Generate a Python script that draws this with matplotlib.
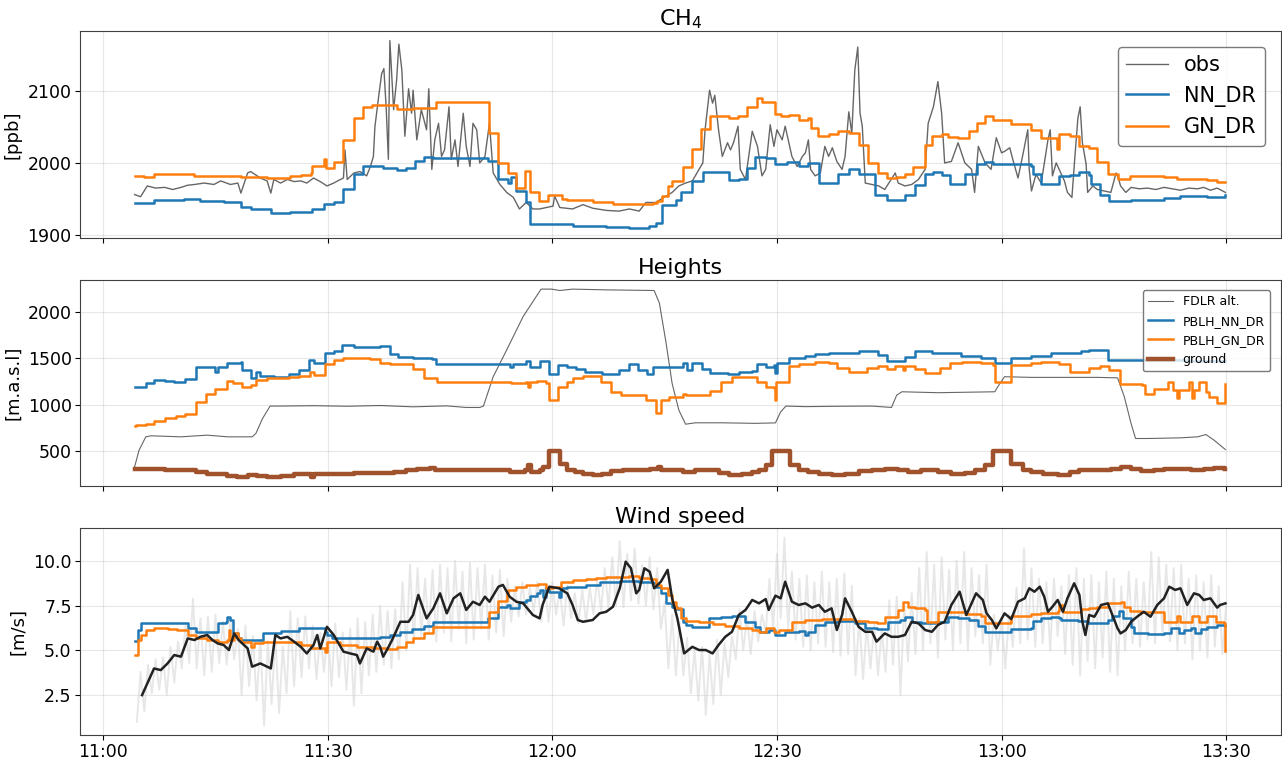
import numpy as np
import pandas as pd
import matplotlib
matplotlib.use('Agg')
import matplotlib.pyplot as plt
import matplotlib.dates as mdates

plt.rcParams['font.family'] = 'DejaVu Sans'

# ── DATA (time in minutes after 11:00) ──────────────────────────────────────
# CH4 observations [ppb]
ch4_obs_t = [4.2, 5.0, 5.9, 7.0, 8.2, 9.3, 10.4, 11.3, 12.2, 13.5, 14.8, 15.7, 17.0, 18.0, 18.4, 19.3, 19.7,
             21.0, 21.9, 22.4, 22.8, 23.7, 24.6, 25.5, 26.4, 27.2, 28.1, 29.0, 29.9, 30.8, 31.5, 32.1, 32.3,
             32.6, 33.5, 34.3, 35.2, 35.7, 36.1, 36.3, 36.8, 37.2, 37.5, 37.8, 38.1, 38.3, 38.8, 39.2, 39.5,
             39.9, 40.3, 40.8, 41.2, 41.4, 41.9, 42.5, 43.2, 43.5, 43.9, 44.3, 44.8, 45.2, 45.6, 46.2, 46.5,
             47.0, 47.4, 48.1, 48.5, 49.0, 49.4, 49.9, 50.3, 51.0, 51.6, 52.1, 53.0, 53.9, 54.8, 55.6, 56.5,
             57.4, 58.3, 59.2, 60.1, 60.3, 61.0, 62.7, 64.1, 65.4, 67.2, 68.9, 70.3, 71.6, 72.5, 73.8, 75.2,
             76.0, 76.9, 77.8, 78.7, 79.6, 80.1, 80.4, 81.0, 81.4, 81.7, 82.2, 82.7, 83.4, 83.8, 84.2, 84.8,
             85.1, 85.8, 86.7, 87.4, 88.0, 88.5, 89.1, 89.6, 90.0, 90.7, 91.1, 91.6, 92.0, 92.7, 93.4, 93.8,
             94.2, 94.5, 95.1, 95.8, 96.4, 96.9, 97.4, 98.0, 98.7, 99.1, 99.6, 100.0, 100.4, 100.8, 101.1,
             101.4, 101.8, 102.7, 103.6, 104.4, 105.8, 106.2, 107.1, 108.0, 108.9, 109.8, 110.2, 110.9,
             111.5, 112.0, 112.4, 113.3, 114.2, 115.1, 116.0, 116.4, 116.9, 117.8, 118.6, 119.3, 120.0,
             120.4, 121.1, 121.5, 122.2, 122.9, 123.5, 123.7, 124.0, 124.6, 125.3, 126.2, 126.5, 126.8,
             127.3, 127.7, 128.4, 128.8, 129.4, 129.8, 130.2, 130.5, 130.8, 131.3, 131.5, 132.2, 132.8,
             133.7, 134.6, 135.3, 135.6, 135.9, 136.6, 137.3, 138.4, 139.5, 140.6, 141.7, 142.8, 143.9,
             145.0, 146.2, 147.0, 147.9, 148.8, 149.9]
ch4_obs = [1956, 1953, 1968, 1965, 1966, 1963, 1966, 1969, 1970, 1972, 1970, 1975, 1970, 1972, 1958, 1986, 1988,
           1979, 1975, 1958, 1977, 1972, 1977, 1974, 1975, 1972, 1979, 1974, 1968, 1972, 1976, 1979, 2018,
           1977, 1986, 1988, 1982, 1995, 2009, 2050, 2092, 2124, 2131, 2078, 2005, 2170, 2074, 2115, 2165,
           2129, 2037, 2103, 2069, 2101, 2032, 2074, 2046, 2103, 1991, 2032, 2055, 2009, 2018, 2078, 2005,
           2032, 1995, 2069, 2023, 1995, 2055, 2046, 2000, 2009, 2055, 1986, 1970, 1959, 1952, 1936, 1945,
           1936, 1936, 1938, 1940, 1954, 1938, 1936, 1942, 1937, 1934, 1933, 1936, 1933, 1945, 1945, 1954,
           1959, 1968, 1972, 1975, 1991, 2000, 2046, 2101, 2083, 2094, 2046, 2009, 2028, 2018, 2028, 2051,
           1991, 1977, 2044, 2023, 1982, 1991, 2053, 2023, 2046, 2032, 2051, 2028, 2009, 1995, 2009, 2014,
           2032, 1991, 1982, 1986, 2023, 2009, 2021, 2002, 1991, 2009, 2071, 2041, 2129, 2161, 2069,
           2051, 1972, 1970, 1968, 1963, 1986, 1972, 1968, 1970, 1977, 1991, 2055, 2078,
           2113, 2069, 2000, 2002, 2028, 2000, 1991, 1959, 2023, 2000, 1991, 2035, 2014,
           2016, 2021, 2005, 1979, 2014, 2046, 1991, 1961, 1984, 1972, 2032, 2046, 1982,
           2000, 1991, 1975, 1959, 1952, 2009, 2062, 2078, 2028, 1998, 1959, 1968, 1963,
           1961, 1959, 1986, 1979, 1968, 1959, 1966, 1964, 1965, 1963, 1966, 1964, 1962,
           1965, 1964, 1966, 1962, 1965, 1959]

# CH4 model (step) series [ppb]
ch4_nn_t = [4.2, 6.8, 10.8, 13.0, 16.1, 18.4, 19.7, 22.4, 25.0, 27.9, 29.5, 30.8, 32.1, 33.5, 34.7, 36.1, 37.4,
            39.2, 40.5, 41.7, 42.8, 44.1, 51.4, 52.8, 54.1, 54.5, 55.2, 56.5, 57.0, 62.7, 67.2, 70.3, 72.9,
            73.8, 74.6, 76.5, 77.2, 78.7, 80.1, 81.4, 83.6, 84.9, 86.0, 87.1, 88.5, 89.8, 91.4, 92.9, 94.2,
            95.6, 98.2, 99.6, 100.9, 103.1, 104.7, 107.1, 108.4, 109.8, 110.9, 112.0, 113.1, 115.1, 116.7,
            117.8, 118.9, 124.0, 124.2, 125.3, 127.7, 129.1, 130.4, 131.7, 131.9, 133.1, 134.4, 137.3,
            141.7, 143.9, 147.5, 149.9]
ch4_nn = [1944, 1948.5, 1949.4, 1947, 1945, 1939, 1935.6, 1931, 1932, 1935.6, 1942.5, 1945.7, 1964, 1984, 1996,
          1995, 1993, 1990, 1993, 2002, 2008, 2007, 2002, 1977, 1972, 1981, 1961, 1945, 1915, 1913, 1911,
          1909, 1912, 1917, 1941, 1949, 1959, 1975, 1987, 1988, 1976, 1978, 1993, 2008, 2007, 1999, 2001,
          1996, 2000, 1972, 1985, 1992, 1985, 1956, 1948, 1955, 1969, 1985, 1988, 1983, 1971, 1985, 1998,
          2001, 1998, 1995, 1984, 1971, 1982, 1983, 1988, 1983, 1970, 1956, 1947, 1949, 1951, 1954, 1953,
          1955]
ch4_gn_t = [4.2, 5.5, 6.8, 10.8, 12.2, 18.4, 21.9, 24.9, 26.4, 27.7, 27.9, 29.5, 29.8, 30.8, 32.1, 33.5, 34.7,
            35.9, 39.2, 41.4, 44.5, 51.6, 52.8, 54.1, 55.2, 56.4, 57.0, 58.2, 59.4, 61.3, 61.9, 65.4, 68.1,
            73.4, 74.0, 74.7, 75.4, 76.0, 77.4, 78.7, 79.9, 81.1, 83.6, 84.8, 86.0, 87.4, 88.0, 89.8, 90.5,
            91.6, 92.9, 94.2, 94.5, 95.5, 96.9, 98.2, 99.6, 100.9, 102.2, 103.5, 104.7, 106.0, 107.1, 108.2,
            109.8, 110.7, 112.0, 112.9, 114.2, 115.6, 116.7, 117.8, 118.9, 121.3, 124.0, 125.3, 127.4,
            127.7, 129.1, 130.4, 131.7, 132.8, 134.2, 135.5, 137.1, 141.7, 143.5, 145.3, 147.5, 148.8, 149.9]
ch4_gn = [1982, 1981, 1985, 1984, 1982, 1980, 1978.5, 1981.5, 1983.5, 1986, 1996, 2005, 1993, 2001, 2032, 2062,
          2077, 2080, 2075, 2076, 2084, 2041, 2000, 1986, 1965, 1989, 1960, 1947, 1955, 1950, 1949, 1945,
          1943.5, 1944.5, 1947, 1954, 1968, 1975, 1994, 2019, 2047, 2065, 2062, 2065, 2078, 2090, 2085,
          2068, 2065, 2066, 2060, 2063, 2048, 2038, 2040, 2045, 2042, 2025, 2000, 1986, 1979, 1981, 1985,
          1994, 2025, 2038, 2040, 2036, 2034, 2044, 2056, 2065, 2060, 2054, 2046, 2034, 2019, 2040, 2038,
          2023, 2021, 2001, 1985, 1977, 1982, 1980, 1978, 1977, 1976, 1974, 1974]

# Heights [m a.s.l.]
alt_t = [4.2, 4.8, 5.7, 6.4, 10.4, 13.9, 16.6, 19.9, 20.4, 21.3, 22.3, 23.7, 28.1, 32.6, 37.0, 41.4, 45.9, 48.5,
         50.3, 50.8, 52.1, 53.9, 56.1, 58.5, 59.9, 61.0, 62.7, 67.2, 73.6, 74.3, 75.2, 76.0, 76.9, 77.8, 79.1,
         82.7, 87.1, 89.8, 90.5, 91.2, 93.8, 98.2, 102.7, 105.3, 106.0, 106.7, 111.5, 119.1, 119.7, 120.4,
         124.0, 128.4, 132.8, 135.5, 136.4, 137.3, 137.9, 139.5, 143.9, 146.2, 147.3, 148.4, 149.9]
alt = [331, 511, 655, 666, 655, 673, 655, 655, 691, 853, 986, 986, 990, 984, 992, 978, 988, 971,
       971, 986, 1302, 1590, 1950, 2245, 2245, 2230, 2245, 2237, 2230, 2094, 1662, 1230, 942, 791, 806,
       806, 800, 805, 924, 986, 980, 984, 986, 971, 1104, 1140, 1130, 1140, 1220, 1302,
       1295, 1295, 1295, 1290, 1086, 799, 637, 637, 644, 655, 680, 618, 518]
pblh_nn_t = [4.2, 5.7, 6.8, 8.2, 9.5, 11.0, 12.4, 13.7, 15.0, 15.3, 16.6, 18.4, 18.6, 19.7, 20.4, 21.0, 22.8,
             24.8, 26.1, 27.5, 28.1, 29.7, 30.8, 31.9, 33.5, 37.0, 38.3, 39.4, 41.4, 43.9, 44.5, 53.9, 54.3,
             54.7, 56.5, 57.0, 58.3, 59.6, 60.7, 61.9, 63.2, 64.3, 66.7, 68.9, 70.3, 71.4, 72.7, 73.4, 74.5,
             77.4, 78.0, 78.7, 80.0, 81.1, 83.4, 84.9, 86.7, 87.4, 88.5, 89.6, 89.8, 90.0, 91.6, 93.8, 95.1,
             96.9, 99.1, 100.9, 103.5, 104.7, 107.1, 108.4, 110.7, 113.3, 114.6, 117.3, 119.1, 121.3, 124.0,
             126.6, 128.4, 130.6, 131.7, 133.1, 134.2, 141.0, 145.0, 149.9]
pblh_nn = [1194, 1237, 1266, 1255, 1248, 1273, 1410, 1403, 1356, 1410, 1446, 1457, 1374, 1284, 1356, 1309, 1302,
           1327, 1374, 1482, 1446, 1554, 1583, 1644, 1626, 1633, 1543, 1518, 1500, 1489, 1435, 1435, 1410,
           1439, 1475, 1410, 1475, 1331, 1428, 1410, 1381, 1356, 1331, 1374, 1439, 1374, 1331, 1403, 1410,
           1446, 1374, 1453, 1381, 1338, 1331, 1356, 1367, 1439, 1410, 1428, 1338, 1446, 1500, 1525, 1543,
           1561, 1561, 1583, 1536, 1475, 1518, 1583, 1554, 1561, 1525, 1507, 1446, 1507, 1525,
           1561, 1554, 1579, 1590, 1590, 1482, 1478, 1472, 1480]
pblh_gn_t = [4.2, 4.4, 5.7, 6.8, 8.3, 9.7, 11.0, 12.4, 13.8, 15.0, 16.5, 17.3, 18.6, 19.7, 20.4, 21.9, 24.8,
             26.1, 27.6, 28.1, 29.7, 30.8, 32.1, 33.5, 35.7, 37.0, 38.3, 40.3, 41.4, 42.8, 44.6, 54.5, 56.5,
             56.7, 57.0, 57.9, 59.2, 59.6, 60.7, 61.9, 62.7, 64.1, 66.5, 67.8, 69.2, 72.5, 73.6, 73.8, 74.5,
             75.6, 77.4, 77.8, 81.1, 82.5, 84.0, 86.0, 87.4, 88.5, 89.6, 89.7, 89.9, 91.6, 92.9, 95.1, 96.9,
             98.0, 99.6, 102.0, 103.5, 104.7, 105.8, 106.9, 107.1, 108.4, 109.8, 111.8, 113.1, 114.7, 117.3,
             118.9, 119.1, 121.3, 124.0, 125.3, 127.7, 129.1, 131.7, 133.1, 134.4, 135.8, 138.7, 139.2,
             140.4, 142.2, 142.9, 143.5, 143.7, 145.0, 145.5, 145.7, 146.4, 147.3, 147.7, 148.8, 149.9]
pblh_gn = [770, 781, 791, 827, 860, 878, 896, 1025, 1112, 1166, 1255, 1230, 1194, 1212, 1266, 1284, 1295,
           1309, 1356, 1320, 1439, 1482, 1500, 1500, 1489, 1453, 1439, 1435, 1381, 1284, 1248, 1237, 1248,
           1187, 1248, 1255, 1230, 1050, 1194, 1248, 1284, 1309, 1248, 1140, 1104, 1050, 1050, 907, 1050,
           1079, 1115, 1104, 1151, 1248, 1302, 1302, 1248, 1187, 1176, 1050, 1248, 1417, 1439, 1464, 1453,
           1392, 1356, 1392, 1417, 1381, 1417, 1374, 1417, 1381, 1345, 1392, 1446, 1464, 1446,
           1428, 1248, 1428, 1453, 1464, 1439, 1356, 1392, 1417, 1374, 1223, 1212, 1115,
           1166, 1248, 1158, 1068, 1158, 1248, 1068, 1158, 1248, 1140, 1086, 1022, 1223]
ground_t = [4.2, 5.9, 8.2, 10.4, 12.4, 13.9, 15.3, 16.6, 17.9, 19.3, 20.6, 21.9, 23.7, 25.5, 27.2, 27.7, 28.1,
            29.9, 31.7, 33.5, 36.1, 38.8, 40.5, 41.9, 43.7, 44.3, 45.9, 53.9, 54.3, 56.3, 56.7, 57.2, 58.3,
            58.7, 59.6, 60.7, 61.0, 61.9, 63.0, 64.1, 65.4, 66.7, 67.8, 69.4, 71.2, 73.0, 74.1, 74.5, 77.4,
            79.1, 80.9, 82.2, 83.6, 85.4, 86.7, 87.6, 88.5, 89.4, 91.6, 91.8, 92.9, 94.2, 95.6, 97.4, 99.1,
            100.9, 102.7, 104.4, 106.2, 107.5, 109.3, 111.5, 113.3, 115.1, 116.4, 117.8, 118.9, 121.1,
            121.3, 122.8, 124.0, 125.5, 127.5, 129.1, 130.4, 132.8, 134.6, 135.9, 137.3, 138.6, 140.4,
            141.7, 143.5, 145.3, 147.1, 148.4, 149.9]
ground = [306, 313, 295, 295, 277, 259, 252, 230, 223, 241, 230, 223, 230, 252, 259, 223, 259,
          252, 259, 263, 270, 277, 302, 313, 324, 295, 295, 295, 277, 295, 349, 277, 295,
          331, 500, 500, 367, 295, 277, 252, 241, 252, 288, 295, 302, 313, 331, 302, 277,
          295, 295, 263, 241, 252, 277, 302, 349, 500, 500, 349, 302, 277, 252, 241, 259,
          288, 295, 306, 295, 277, 295, 277, 252, 263, 295, 349, 500, 500,
          367, 295, 277, 252, 241, 277, 295, 302, 313, 331, 313, 288, 295,
          306, 313, 302, 313, 320, 313]

# Wind speed [m/s]: raw 0.5-min samples starting at minute 4.5
wind_raw = [1.0, 3.8, 1.6, 4.2, 2.6, 4.5, 2.8, 4.6, 2.5, 5.2,
            3.2, 5.5, 4.0, 6.4, 4.3, 7.9, 4.0, 6.8, 3.6, 6.9,
            3.8, 7.0, 4.3, 6.6, 4.2, 6.8, 4.5, 6.2, 2.5, 6.4,
            3.0, 5.8, 2.2, 5.6, 0.8, 5.5, 2.0, 5.8, 1.5, 5.2,
            2.6, 7.2, 3.0, 6.8, 3.5, 6.9, 4.0, 6.4, 3.4, 6.0,
            3.8, 6.3, 3.0, 6.5, 3.5, 6.0, 2.8, 6.2, 1.9, 6.8,
            2.6, 6.6, 3.6, 7.0, 3.8, 7.5, 4.2, 7.2, 4.0, 7.3,
            4.5, 8.8, 5.0, 9.8, 5.4, 9.6, 5.8, 9.0, 6.0, 9.5,
            5.5, 9.8, 6.0, 9.6, 5.5, 10.0, 6.2, 9.4, 5.4, 9.9,
            5.6, 9.6, 6.2, 9.8, 5.6, 9.2, 6.0, 9.5, 5.8, 9.0,
            6.6, 8.6, 6.9, 8.8, 7.0, 8.5, 7.2, 8.8, 6.6, 8.6,
            6.6, 8.8, 7.0, 8.4, 6.4, 8.6, 6.8, 8.2, 6.5, 8.4,
            6.6, 8.5, 7.0, 9.0, 7.2, 9.6, 7.4, 10.2, 7.5, 11.1,
            7.4, 10.4, 7.8, 10.7, 7.6, 9.8, 7.5, 10.2, 7.3, 9.6,
            6.2, 7.7, 4.0, 7.0, 3.6, 6.6, 3.6, 5.7, 2.6, 5.0,
            2.2, 5.2, 1.4, 4.8, 2.0, 5.6, 2.5, 5.4, 3.5, 5.8,
            4.5, 7.3, 5.0, 6.9, 4.8, 7.2, 5.5, 7.0, 6.0, 9.0,
            6.2, 10.4, 6.8, 11.3, 6.2, 9.4, 5.6, 9.0, 5.2, 9.2,
            5.0, 8.8, 5.4, 9.4, 5.2, 8.8, 4.9, 9.0, 4.7, 9.3,
            4.8, 8.6, 3.6, 6.8, 3.4, 6.4, 4.0, 6.5, 3.6, 6.2,
            3.8, 7.8, 4.2, 8.0, 2.5, 7.6, 4.4, 8.2, 4.8, 9.6,
            5.0, 10.5, 5.4, 9.8, 4.6, 10.2, 5.6, 9.5, 5.0, 10.0,
            5.4, 10.5, 5.0, 9.6, 5.8, 9.2, 5.4, 9.8, 4.2, 7.0,
            5.0, 6.8, 4.0, 7.0, 5.2, 8.5, 5.4, 10.7, 5.6, 9.6,
            5.2, 9.0, 5.4, 8.8, 5.0, 9.0, 5.8, 8.6, 4.8, 9.2,
            4.2, 9.6, 3.6, 9.0, 4.4, 9.2, 4.0, 8.8, 4.6, 9.4,
            3.8, 9.0, 3.6, 8.6, 5.0, 9.4, 5.4, 9.0, 5.2, 8.8,
            5.6, 10.5, 5.4, 10.2, 5.8, 9.8, 5.5, 9.6, 5.0, 9.8,
            5.4, 9.0, 4.5, 9.2, 5.0, 8.8, 4.6, 9.2, 5.2, 8.6,
            4.8, 7.6]
wind_smooth_t = [5.2, 5.7, 6.4, 6.8, 7.7, 8.6, 9.5, 10.4, 11.3, 12.2, 13.0, 13.9, 14.6, 15.3, 16.1, 16.8, 17.5,
                 18.1, 19.3, 19.9, 21.0, 22.4, 23.0, 23.7, 24.6, 25.5, 26.4, 27.2, 28.1, 28.6, 29.0, 29.9, 30.8,
                 32.1, 33.0, 33.9, 34.3, 35.2, 36.1, 36.6, 37.0, 37.4, 37.9, 38.6, 39.7, 40.8, 41.4, 42.1, 43.2,
                 44.1, 45.0, 45.9, 46.8, 47.7, 48.5, 49.4, 50.3, 51.0, 51.6, 52.8, 53.4, 54.3, 55.2, 56.1, 57.4,
                 58.3, 58.7, 59.6, 60.9, 62.0, 62.7, 63.4, 64.1, 65.4, 66.3, 67.2, 68.1, 69.0, 69.8, 70.5, 71.2,
                 71.6, 72.3, 73.0, 73.6, 74.5, 75.4, 76.0, 76.7, 77.6, 78.7, 79.6, 80.5, 81.4, 82.2, 83.1, 84.0,
                 84.9, 85.8, 86.7, 87.6, 88.5, 88.9, 89.8, 90.5, 91.1, 92.0, 92.9, 93.8, 94.7, 95.6, 96.4, 97.3,
                 98.0, 98.7, 99.1, 100.0, 100.9, 101.8, 102.7, 103.3, 104.4, 105.3, 106.2, 107.1, 108.0, 108.9,
                 109.8, 110.7, 111.5, 112.4, 113.3, 114.4, 115.3, 116.0, 116.6, 117.5, 118.0, 118.7, 119.3,
                 120.4, 121.3, 122.2, 123.1, 123.7, 124.4, 125.1, 125.7, 126.2, 126.8, 127.5, 128.2, 128.8,
                 129.7, 130.4, 130.8, 131.2, 131.7, 132.4, 133.3, 134.2, 134.8, 135.5, 135.9, 136.6, 137.3,
                 138.1, 139.0, 139.9, 140.8, 141.7, 142.4, 143.2, 143.9, 144.8, 145.7, 146.4, 147.0, 147.9,
                 148.8, 149.2, 149.9]
wind_smooth = [2.5, 2.97, 3.62, 3.99, 3.9, 4.27, 4.74, 4.65, 5.67, 5.58, 5.76, 5.86, 5.58, 5.39, 5.3, 5.02, 5.95,
               5.58, 5.11, 4.09, 4.27, 3.99, 5.86, 5.67, 5.76, 5.49, 5.2, 4.83, 5.3, 5.86, 5.11, 6.32, 5.86,
               4.93, 4.83, 4.74, 4.27, 5.11, 4.93, 5.49, 5.2, 4.65, 5.02, 5.58, 6.6, 6.6, 6.98, 8.1, 6.79,
               7.35, 8.19, 7.07, 7.91, 8.19, 7.26, 7.72, 7.54, 8.0, 7.72, 8.56, 8.66, 8.0, 7.72, 7.63, 6.98,
               6.79, 7.54, 8.56, 8.47, 8.19, 7.54, 6.7, 6.6, 6.7, 7.07, 7.16, 7.44, 8.47, 9.96, 9.59, 8.19,
               8.38, 9.59, 9.4, 8.47, 8.84, 9.5, 7.91, 6.79, 4.83, 5.2, 5.02, 5.02, 4.83, 5.3, 5.76, 6.04,
               6.98, 7.26, 7.82, 7.63, 7.87, 7.26, 8.06, 7.91, 8.84, 7.72, 7.54, 7.63, 7.39, 7.54, 7.16, 7.35,
               6.14, 6.98, 7.91, 7.16, 6.32, 6.04, 6.04, 5.49, 5.95, 5.76, 5.76, 5.86, 6.6, 6.51,
               6.14, 6.04, 6.42, 6.6, 7.54, 8.28, 6.98, 7.63, 8.19, 7.82, 7.07, 6.7, 6.23,
               7.07, 6.75, 7.72, 7.91, 8.47, 8.28, 8.56, 8.0, 7.16, 7.44, 7.82, 7.16, 7.91,
               8.75, 8.1, 6.6, 5.86, 6.98, 6.88, 7.54, 7.63, 6.98, 6.23, 5.95, 6.14, 6.6,
               6.88, 7.16, 6.88, 7.54, 7.91, 8.56, 8.38, 8.47, 7.54, 8.19, 8.1, 7.82, 7.91,
               7.39, 7.54, 7.63]
wind_nn_t = [4.3, 4.6, 5.1, 10.8, 11.3, 12.4, 15.0, 15.3, 16.4, 16.6, 17.0, 17.3, 18.0, 18.4, 20.1, 21.3,
             23.7, 26.1, 29.7, 29.9, 30.6, 32.1, 37.0, 38.3, 39.7, 41.2, 42.8, 44.1, 51.2, 51.4, 52.8, 53.9,
             54.3, 55.6, 56.5, 57.0, 57.9, 58.3, 58.7, 59.2, 59.6, 60.9, 61.2, 61.9, 62.7, 64.5, 66.3, 69.0,
             71.6, 73.4, 73.8, 74.5, 75.2, 76.0, 76.7, 77.4, 77.8, 78.7, 80.0, 80.9, 82.5, 84.0, 85.8, 87.1,
             87.8, 88.9, 89.8, 91.1, 92.9, 93.8, 94.2, 95.1, 96.4, 98.2, 100.4, 101.8, 103.3, 104.9, 106.4,
             107.1, 108.0, 109.3, 111.1, 112.9, 114.2, 115.6, 116.9, 117.8, 121.3, 124.0, 124.2, 125.3,
             126.6, 127.7, 128.0, 130.2, 131.5, 133.3, 134.2, 134.8, 135.7, 136.2, 137.3, 137.7, 139.5,
             141.7, 142.6, 143.7, 144.4, 145.3, 145.9, 146.6, 147.5, 148.8, 149.9]
wind_nn = [5.52, 6.14, 6.51, 6.51, 6.27, 6.04, 6.04, 6.51, 6.6, 6.88, 6.7, 5.95, 5.67, 5.58, 5.58, 5.95,
           6.08, 6.23, 6.04, 5.86, 5.67, 5.67, 5.76, 5.86, 6.01, 6.19, 6.38, 6.57, 6.57, 6.83, 7.44, 7.54,
           7.35, 7.72, 7.82, 8.06, 8.19, 8.38, 8.0, 8.47, 8.28, 8.0, 8.51, 8.56, 8.56, 8.66, 8.81, 8.88,
           8.81, 8.75, 8.56, 8.19, 7.63, 7.44, 7.31, 6.6, 6.42, 6.32, 6.32, 6.79, 6.88, 6.92, 6.6, 6.32,
           6.04, 6.14, 5.86, 6.04, 6.08, 5.86, 6.04, 6.42, 6.6, 6.64, 6.51, 6.27, 6.19, 6.6, 6.7,
           6.88, 6.6, 6.51, 6.6, 6.88, 6.79, 6.7, 6.38, 6.04, 6.19, 6.23, 6.64, 6.79,
           6.88, 6.79, 6.7, 6.64, 6.51, 6.51, 6.7, 6.94, 7.2, 6.79, 6.32, 5.95, 5.9,
           5.95, 6.27, 5.95, 6.14, 6.27, 5.95, 6.19, 6.32, 6.42, 6.38]
wind_gn_t = [4.3, 4.6, 5.1, 5.7, 6.8, 8.6, 9.9, 11.3, 12.4, 13.9, 15.3, 16.6, 16.8, 17.0, 17.5, 18.0, 18.4, 19.7,
             20.1, 21.3, 23.7, 26.4, 27.7, 29.7, 29.9, 31.7, 33.9, 36.1, 37.9, 39.2, 40.5, 41.4, 42.8, 44.1,
             51.2, 51.6, 52.8, 53.9, 54.1, 55.2, 56.5, 58.1, 59.2, 60.1, 61.2, 62.7, 64.5, 65.8, 67.2, 70.3,
             71.6, 73.0, 73.8, 74.5, 75.4, 76.0, 76.5, 77.2, 77.8, 79.6, 81.4, 83.1, 84.9, 86.7, 87.6, 88.5,
             89.4, 89.6, 90.3, 92.0, 93.8, 96.0, 98.2, 100.4, 102.2, 103.3, 104.4, 106.2, 106.9, 107.5, 108.4,
             109.8, 110.0, 111.5, 113.3, 115.1, 117.3, 117.8, 121.3, 124.0, 125.3, 127.5, 127.7, 128.2,
             130.6, 131.7, 132.8, 134.2, 136.0, 136.4, 137.1, 138.6, 140.4, 141.7, 142.6, 143.5, 143.9, 145.0,
             145.5, 146.4, 147.5, 148.6, 149.7, 149.9]
wind_gn = [4.74, 5.58, 5.86, 6.14, 6.27, 6.19, 6.14, 5.86, 5.67, 5.58, 5.49, 5.58, 6.14, 5.58, 5.95, 5.67, 5.49,
           5.2, 5.39, 5.49, 5.45, 5.3, 5.11, 4.93, 5.49, 5.3, 5.2, 5.11, 5.07, 5.2, 5.45, 5.67, 5.95, 6.32,
           6.32, 7.13, 7.76, 8.23, 8.38, 8.56, 8.66, 8.69, 8.47, 8.56, 8.84, 8.94, 8.99, 9.07, 9.12, 9.16,
           9.07, 8.99, 8.66, 8.47, 8.1, 7.72, 7.35, 6.79, 6.64, 6.57, 6.46, 6.38, 6.27, 6.14, 6.04, 6.27,
           6.23, 6.04, 6.14, 6.57, 6.7, 6.75, 6.75, 6.64, 6.57, 6.51, 6.88, 7.26, 7.72, 7.44, 7.39,
           7.26, 6.6, 7.16, 7.13, 7.01, 6.94, 6.51, 6.94, 7.01, 7.07, 7.2, 7.54, 7.16,
           7.31, 7.39, 7.44, 7.63, 7.72, 7.44, 7.2, 7.16, 7.16, 6.6, 6.6, 6.94, 6.6, 6.6,
           6.94, 6.6, 6.94, 6.6, 6.51, 4.96]

# ── PLOTTING ────────────────────────────────────────────────────────────────
T0 = pd.Timestamp('2021-06-01 11:00')


def to_time(minutes):
    return T0 + pd.to_timedelta(np.asarray(minutes, dtype=float), unit='min')


wind_raw_t = 4.5 + 0.5 * np.arange(len(wind_raw))
model_kw = dict(drawstyle='steps-post', linewidth=1.8)

fig, axes = plt.subplots(3, 1, figsize=(12.82, 7.6), dpi=100, sharex=True)
fig.subplots_adjust(left=0.0624, right=0.999, top=0.959, bottom=0.033, hspace=0.203)
ax1, ax2, ax3 = axes

# CH4
ax1.plot(to_time(ch4_obs_t), ch4_obs, color='k', alpha=0.6, linewidth=1.0, label='obs')
ax1.plot(to_time(ch4_nn_t), ch4_nn, color='tab:blue', label='NN_DR', **model_kw)
ax1.plot(to_time(ch4_gn_t), ch4_gn, color='tab:orange', label='GN_DR', **model_kw)
ax1.set_yticks([1900, 2000, 2100])
ax1.set_title('CH$_4$', fontsize=16, pad=4)
ax1.set_ylabel('[ppb]', fontsize=13)
leg1 = ax1.legend(loc='upper right', fontsize=15, borderaxespad=0.75)
leg1.get_frame().set_edgecolor('0.35')

# Heights
ax2.plot(to_time(alt_t), alt, color='k', alpha=0.6, linewidth=0.8, label='FDLR alt.')
ax2.plot(to_time(pblh_nn_t), pblh_nn, color='tab:blue', label='PBLH_NN_DR', **model_kw)
ax2.plot(to_time(pblh_gn_t), pblh_gn, color='tab:orange', label='PBLH_GN_DR', **model_kw)
ax2.plot(to_time(ground_t), ground, color='sienna', drawstyle='steps-post', linewidth=3.2, label='ground')
ax2.set_title('Heights', fontsize=16, pad=4)
ax2.set_ylabel('[m.a.s.l]', fontsize=13)
leg2 = ax2.legend(loc='upper right', fontsize=9, borderaxespad=0.85)
leg2.get_frame().set_edgecolor('0.35')

# Wind speed
ax3.plot(to_time(wind_raw_t), wind_raw, color='0.82', alpha=0.5, linewidth=1.4)
ax3.plot(to_time(wind_nn_t), wind_nn, color='tab:blue', **model_kw)
ax3.plot(to_time(wind_gn_t), wind_gn, color='tab:orange', **model_kw)
ax3.plot(to_time(wind_smooth_t), wind_smooth, color='#222222', linewidth=1.8)
ax3.set_title('Wind speed', fontsize=16, pad=4)
ax3.set_ylabel('[m/s]', fontsize=13)

ax3.xaxis.set_major_locator(mdates.MinuteLocator(byminute=[0, 30]))
ax3.xaxis.set_major_formatter(mdates.DateFormatter('%H:%M'))
for ax in axes:
    ax.grid(True, alpha=0.3)
    ax.tick_params(labelsize=12.5, pad=2.5)
    for sp in ax.spines.values():
        sp.set_color('0.25')

fig.savefig('out.png', dpi=100)
